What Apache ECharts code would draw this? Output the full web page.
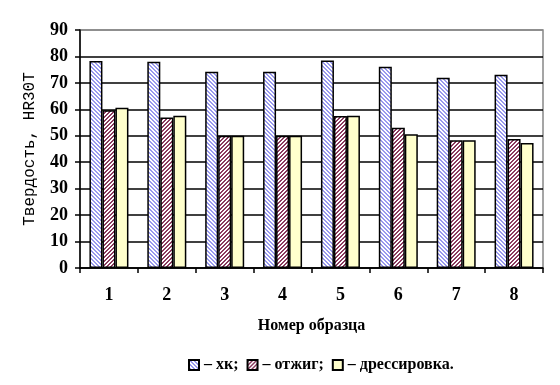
<!DOCTYPE html>
<html><head><meta charset="utf-8">
<script src="https://cdn.jsdelivr.net/npm/echarts@6/dist/echarts.min.js"></script>
<style>html,body{margin:0;padding:0;background:#fff}#c{width:560px;height:385px}</style>
</head><body><div id="c"></div>
<script>
const categories = ['1','2','3','4','5','6','7','8'];
const seriesNames = ['– хк;', '– отжиг;', '– дрессировка.'];
const valuesXK = [78.3, 78, 74.2, 74.2, 78.5, 76.1, 71.9, 73.1];
const valuesOtzhig = [59.7, 56.9, 50, 50, 57.5, 53, 48.3, 48.8];
const valuesDress = [60.6, 57.6, 50, 50, 57.6, 50.6, 48.3, 47.3];
const yTicks = [0, 10, 20, 30, 40, 50, 60, 70, 80, 90];

function stripe(color, dir) {
  const n = 8;
  const c = document.createElement('canvas');
  c.width = n; c.height = n;
  const g = c.getContext('2d');
  g.fillStyle = '#fff'; g.fillRect(0, 0, n, n);
  g.fillStyle = color;
  for (let y = 0; y < n; y++) {
    for (let x = 0; x < n; x++) {
      const v = dir === 'back' ? ((x - y) % 4 + 4) % 4 : (x + y) % 4;
      if (v < 2) g.fillRect(x, y, 1, 1);
    }
  }
  return { image: c, repeat: 'repeat' };
}

const font = '"Liberation Serif", "Times New Roman", serif';
const chart = echarts.init(document.getElementById('c'), null, { renderer: 'canvas' });
const mk = (name, data, color) => ({
  name, type: 'bar', data, barWidth: 13, barGap: '0%',
  itemStyle: { color, borderColor: '#000', borderWidth: 1.5 },
  animation: false
});
const splitColors = yTicks.map((t, i) => i === yTicks.length - 1 ? '#888' : '#000');
chart.setOption({
  animation: false,
  grid: { left: 80, right: 17, top: 30, bottom: 117, show: true, borderColor: '#888', borderWidth: 1.5 },
  legend: {
    bottom: 7, left: 183, itemWidth: 10, itemHeight: 10, itemGap: 8, icon: 'rect',
    textStyle: { fontFamily: font, fontWeight: 'bold', fontSize: 16, color: '#000' },
    data: seriesNames
  },
  xAxis: {
    type: 'category', data: categories,
    name: 'Номер образца', nameLocation: 'middle', nameGap: 50,
    nameTextStyle: { fontFamily: font, fontWeight: 'bold', fontSize: 16, color: '#000' },
    axisLine: { lineStyle: { color: '#000', width: 1.5 } },
    axisTick: { show: true, length: 5, lineStyle: { color: '#000', width: 1.5 } },
    axisLabel: { fontFamily: font, fontWeight: 'bold', fontSize: 18, color: '#000', margin: 18 }
  },
  yAxis: {
    type: 'value', min: 0, max: 90, interval: 10,
    name: 'Твердость, HR30T', nameLocation: 'middle', nameGap: 42, nameRotate: 90,
    nameTextStyle: { fontFamily: '"Liberation Mono", "Courier New", monospace', fontSize: 16, color: '#000' },
    axisLine: { show: true, lineStyle: { color: '#000', width: 1.5 } },
    axisTick: { show: true, length: 5, lineStyle: { color: '#000', width: 1.5 } },
    axisLabel: { fontFamily: font, fontWeight: 'bold', fontSize: 18, color: '#000', margin: 12 },
    splitLine: { show: true, lineStyle: { color: splitColors, width: 1.5 } }
  },
  series: [
    mk(seriesNames[0], valuesXK, stripe('#9999ee', 'back')),
    mk(seriesNames[1], valuesOtzhig, stripe('#8b3a5e', 'fwd')),
    mk(seriesNames[2], valuesDress, '#ffffcc')
  ]
});
</script></body></html>
